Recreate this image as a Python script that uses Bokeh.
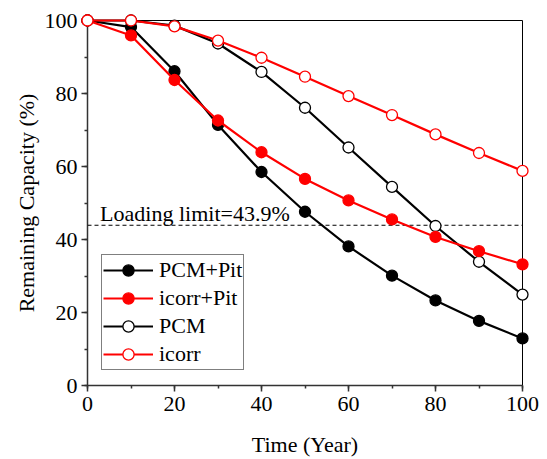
from bokeh.plotting import figure
from bokeh.models import Range1d, SingleIntervalTicker, Legend, LegendItem, Span, Label
from bokeh.embed import file_html
from bokeh.resources import INLINE

years = [0, 10, 20, 30, 40, 50, 60, 70, 80, 90, 100]
pcm_pit = [100, 98.2, 86.1, 71.4, 58.5, 47.6, 38.1, 30.1, 23.3, 17.7, 12.9]
icorr_pit = [100, 95.9, 83.7, 72.6, 63.9, 56.6, 50.7, 45.5, 40.7, 36.8, 33.2]
pcm = [100, 100, 98.6, 93.7, 85.9, 76.1, 65.2, 54.4, 43.7, 33.9, 24.9]
icorr = [100, 100, 98.4, 94.5, 89.8, 84.6, 79.3, 74.1, 68.8, 63.7, 58.8]
loading_limit = 43.9
limit_text = "Loading limit=43.9%"
series_names = ["PCM+Pit", "icorr+Pit", "PCM", "icorr"]

FONT = "'Liberation Serif'"
FS = "22px"

p = figure(width=547, height=459, output_backend="svg", toolbar_location=None,
           x_range=Range1d(0, 100), y_range=Range1d(0, 100),
           min_border_left=87, min_border_right=25, min_border_top=20, min_border_bottom=73)
p.xgrid.visible = False
p.ygrid.visible = False
p.outline_line_color = "black"
p.outline_line_width = 1
p.background_fill_color = "white"
p.border_fill_color = "white"

for ax in (p.xaxis[0], p.yaxis[0]):
    ax.ticker = SingleIntervalTicker(interval=20, num_minor_ticks=2)
    ax.axis_line_color = "#333333"
    ax.axis_line_width = 1.5
    ax.major_tick_line_color = "#333333"
    ax.minor_tick_line_color = "#333333"
    ax.major_tick_line_width = 1.5
    ax.minor_tick_line_width = 1.5
    ax.major_tick_out = 6
    ax.major_tick_in = 0
    ax.minor_tick_out = 3
    ax.minor_tick_in = 0
    ax.major_label_text_font = FONT
    ax.major_label_text_font_size = FS
    ax.major_label_text_color = "black"
    ax.axis_label_text_font = FONT
    ax.axis_label_text_font_size = FS
    ax.axis_label_text_font_style = "normal"
    ax.axis_label_text_color = "black"

p.xaxis.axis_label = "Time (Year)"
p.yaxis.axis_label = "Remaining Capacity (%)"
p.xaxis.major_label_standoff = 5
p.yaxis.major_label_standoff = 4
p.xaxis.axis_label_standoff = 18
p.yaxis.axis_label_standoff = 3

limit = Span(location=loading_limit, dimension="width", line_color="black",
             line_width=1.2, line_dash="4 3")
p.add_layout(limit)
p.add_layout(Label(x=2.9, y=47.2, text=limit_text, text_font=FONT, text_font_size=FS,
                   text_baseline="alphabetic", text_color="black"))

specs = [
    (pcm_pit, "black", "black"),
    (pcm, "black", "white"),
    (icorr_pit, "red", "red"),
    (icorr, "red", "white"),
]
name_map = {id(pcm_pit): 0, id(icorr_pit): 1, id(pcm): 2, id(icorr): 3}
items = [None] * 4
for vals, col, fill in specs:
    ln = p.line(years, vals, line_color=col, line_width=2.2, level="overlay")
    sc = p.scatter(years, vals, marker="circle", size=11, line_color=col, line_width=1.3,
                   fill_color=fill, level="overlay")
    idx = name_map[id(vals)]
    items[idx] = LegendItem(label=series_names[idx], renderers=[ln, sc])

legend = Legend(items=items, location=(14, 15), margin=0, padding=1, spacing=0,
                label_text_font=FONT, label_text_font_size=FS, label_text_color="black",
                label_height=28, glyph_height=28, glyph_width=50, label_standoff=6,
                border_line_color="black", border_line_width=1.5,
                background_fill_color="white", background_fill_alpha=1)
p.add_layout(legend)

open("out.html", "w").write(file_html(p, INLINE))
